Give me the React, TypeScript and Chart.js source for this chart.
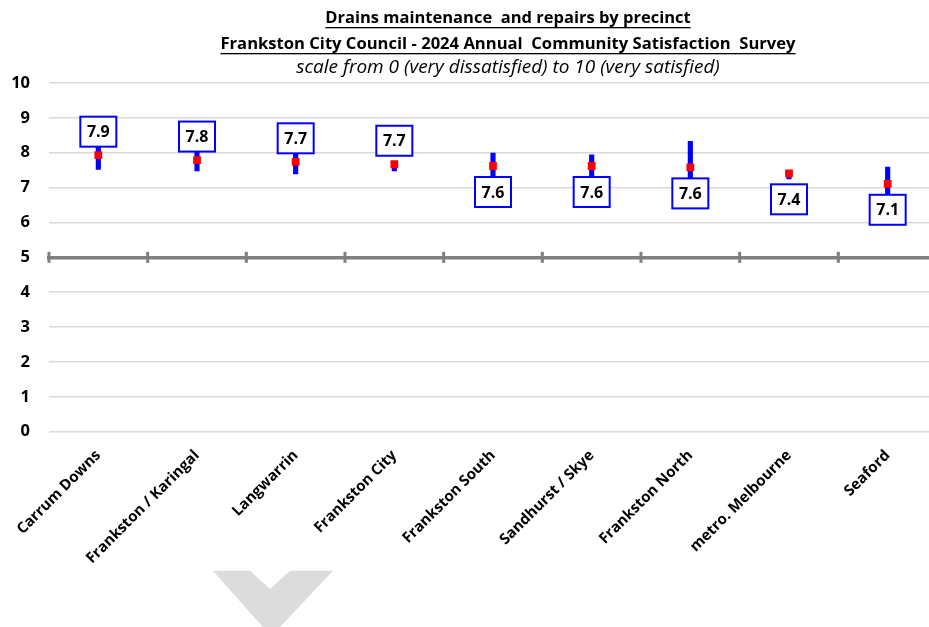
import React, { useEffect, useRef } from "react";
import { Chart, registerables } from "chart.js";

Chart.register(...registerables);

const CATEGORIES = [
  "Carrum Downs",
  "Frankston / Karingal",
  "Langwarrin",
  "Frankston City",
  "Frankston South",
  "Sandhurst / Skye",
  "Frankston North",
  "metro. Melbourne",
  "Seaford",
];
const MEANS = [7.93, 7.79, 7.74, 7.67, 7.62, 7.62, 7.58, 7.41, 7.11];
const CI_LOW = [7.52, 7.48, 7.39, 7.48, 7.25, 7.3, 6.83, 7.25, 6.63];
const CI_HIGH = [8.34, 8.1, 8.11, 7.72, 7.99, 7.94, 8.33, 7.47, 7.59];
const LABEL_ABOVE = [true, true, true, true, false, false, false, false, false];
const REFERENCE_LINE = 5;
const TITLE_LINES = [
  "Drains maintenance  and repairs by precinct",
  "Frankston City Council - 2024 Annual  Community Satisfaction  Survey",
  "scale from 0 (very dissatisfied) to 10 (very satisfied)",
];

const FONT = "'Open Sans', Lato, sans-serif";

const titlePlugin = {
  id: "titleBlock",
  afterDraw(chart: any) {
    const ctx = chart.ctx;
    const cx = (chart.chartArea.left + chart.chartArea.right) / 2 + 15;
    const specs = [
      { text: TITLE_LINES[0], font: `bold 16.5px ${FONT}`, y: 18, underline: true },
      { text: TITLE_LINES[1], font: `bold 16.6px ${FONT}`, y: 44, underline: true },
      { text: TITLE_LINES[2], font: `italic 19px ${FONT}`, y: 68, underline: false },
    ];
    ctx.save();
    ctx.fillStyle = "#000";
    ctx.textAlign = "center";
    ctx.textBaseline = "middle";
    for (const s of specs) {
      ctx.font = s.font;
      ctx.fillText(s.text, cx, s.y);
      if (s.underline) {
        const w = ctx.measureText(s.text).width;
        ctx.fillRect(cx - w / 2, s.y + 9, w, 1.3);
      }
    }
    ctx.restore();
  },
};

const refLinePlugin = {
  id: "refTicks",
  beforeDatasetsDraw(chart: any) {
    const ctx = chart.ctx;
    const xs = chart.scales.x;
    const y5 = chart.scales.y.getPixelForValue(REFERENCE_LINE);
    ctx.save();
    ctx.strokeStyle = "#7f7f7f";
    ctx.lineWidth = 3;
    for (let i = 0; i <= CATEGORIES.length; i++) {
      const x = xs.getPixelForValue(i - 0.5);
      ctx.beginPath();
      ctx.moveTo(x, y5 - 5.5);
      ctx.lineTo(x, y5 + 5.5);
      ctx.stroke();
    }
    ctx.restore();
  },
};

const boxLabelPlugin = {
  id: "boxLabels",
  afterDatasetsDraw(chart: any) {
    const ctx = chart.ctx;
    const meta = chart.getDatasetMeta(1);
    const bw = 36;
    const bh = 30;
    ctx.save();
    meta.data.forEach((pt: any, i: number) => {
      const top = LABEL_ABOVE[i] ? pt.y - 8.5 - bh : pt.y + 11;
      const left = pt.x - bw / 2;
      ctx.fillStyle = "#fff";
      ctx.fillRect(left, top, bw, bh);
      ctx.strokeStyle = "#0000ff";
      ctx.lineWidth = 2;
      ctx.strokeRect(left, top, bw, bh);
      ctx.fillStyle = "#000";
      ctx.font = `bold 16px ${FONT}`;
      ctx.textAlign = "center";
      ctx.textBaseline = "middle";
      ctx.fillText(MEANS[i].toFixed(1), pt.x, top + bh / 2 + 1);
    });
    ctx.restore();
  },
};

const chevronPlugin = {
  id: "chevron",
  beforeDraw(chart: any) {
    const ctx = chart.ctx;
    ctx.save();
    ctx.fillStyle = "#fff";
    ctx.fillRect(0, 0, chart.width, chart.height);
    ctx.fillStyle = "#dcdcdc";
    ctx.beginPath();
    ctx.moveTo(212.7, 570.7);
    ctx.lineTo(250, 570.7);
    ctx.lineTo(270, 589);
    ctx.lineTo(290, 570.7);
    ctx.lineTo(333, 570.7);
    ctx.lineTo(271.3, 636.3);
    ctx.closePath();
    ctx.fill();
    ctx.restore();
  },
};

export default function App() {
  const ref = useRef<HTMLCanvasElement | null>(null);

  useEffect(() => {
    if (!ref.current) return;
    const chart = new Chart(ref.current, {
      type: "bar",
      data: {
        labels: CATEGORIES,
        datasets: [
          {
            type: "bar",
            data: CI_LOW.map((l, i) => [l, CI_HIGH[i]]) as any,
            backgroundColor: "#0000ff",
            barThickness: 4.5,
            xAxisID: "x",
            yAxisID: "y",
            order: 2,
          } as any,
          {
            type: "line",
            data: MEANS,
            showLine: false,
            pointStyle: "rect",
            pointRadius: 5.5,
            pointBackgroundColor: "#ff0000",
            pointBorderWidth: 0,
            borderColor: "#ff0000",
            xAxisID: "x",
            yAxisID: "y",
            order: 1,
          } as any,
        ],
      },
      options: {
        animation: false,
        responsive: true,
        maintainAspectRatio: false,
        layout: { padding: { top: 83, right: 8, left: 0, bottom: 0 } },
        plugins: {
          legend: { display: false },
          tooltip: { enabled: false },
          title: { display: false },
        },
        scales: {
          x: {
            type: "category",
            position: "bottom",
            offset: true,
            grid: { display: false },
            border: { display: false },
            ticks: {
              autoSkip: false,
              maxRotation: 45,
              minRotation: 45,
              padding: 7,
              color: "#000",
              font: { family: FONT, size: 15, weight: "bold" },
            },
            afterFit: (s: any) => {
              s.height = 195.3;
              s.paddingLeft = 0;
              s.paddingRight = 0;
            },
          },
          x5: {
            type: "category",
            axis: "x",
            labels: CATEGORIES,
            position: { y: REFERENCE_LINE },
            offset: true,
            grid: { display: false },
            ticks: { display: false },
            border: { display: true, color: "#7f7f7f", width: 3.5 },
          },
          y: {
            type: "linear",
            min: 0,
            max: 10,
            ticks: {
              stepSize: 1,
              padding: 19,
              color: "#000",
              font: { family: FONT, size: 16.5, weight: "bold" },
            },
            grid: { color: "#d9d9d9", lineWidth: 1.5, drawTicks: false },
            border: { display: false },
            afterFit: (s: any) => {
              s.width = 49;
            },
          },
        } as any,
      },
      plugins: [chevronPlugin, refLinePlugin, boxLabelPlugin, titlePlugin],
    });
    return () => chart.destroy();
  }, []);

  return (
    <div
      style={{
        position: "fixed",
        left: 0,
        top: 0,
        width: 929,
        height: 627,
        overflow: "hidden",
        background: "#fff",
      }}
    >
      <div style={{ position: "relative", width: 945, height: 627 }}>
        <canvas ref={ref} />
      </div>
    </div>
  );
}
